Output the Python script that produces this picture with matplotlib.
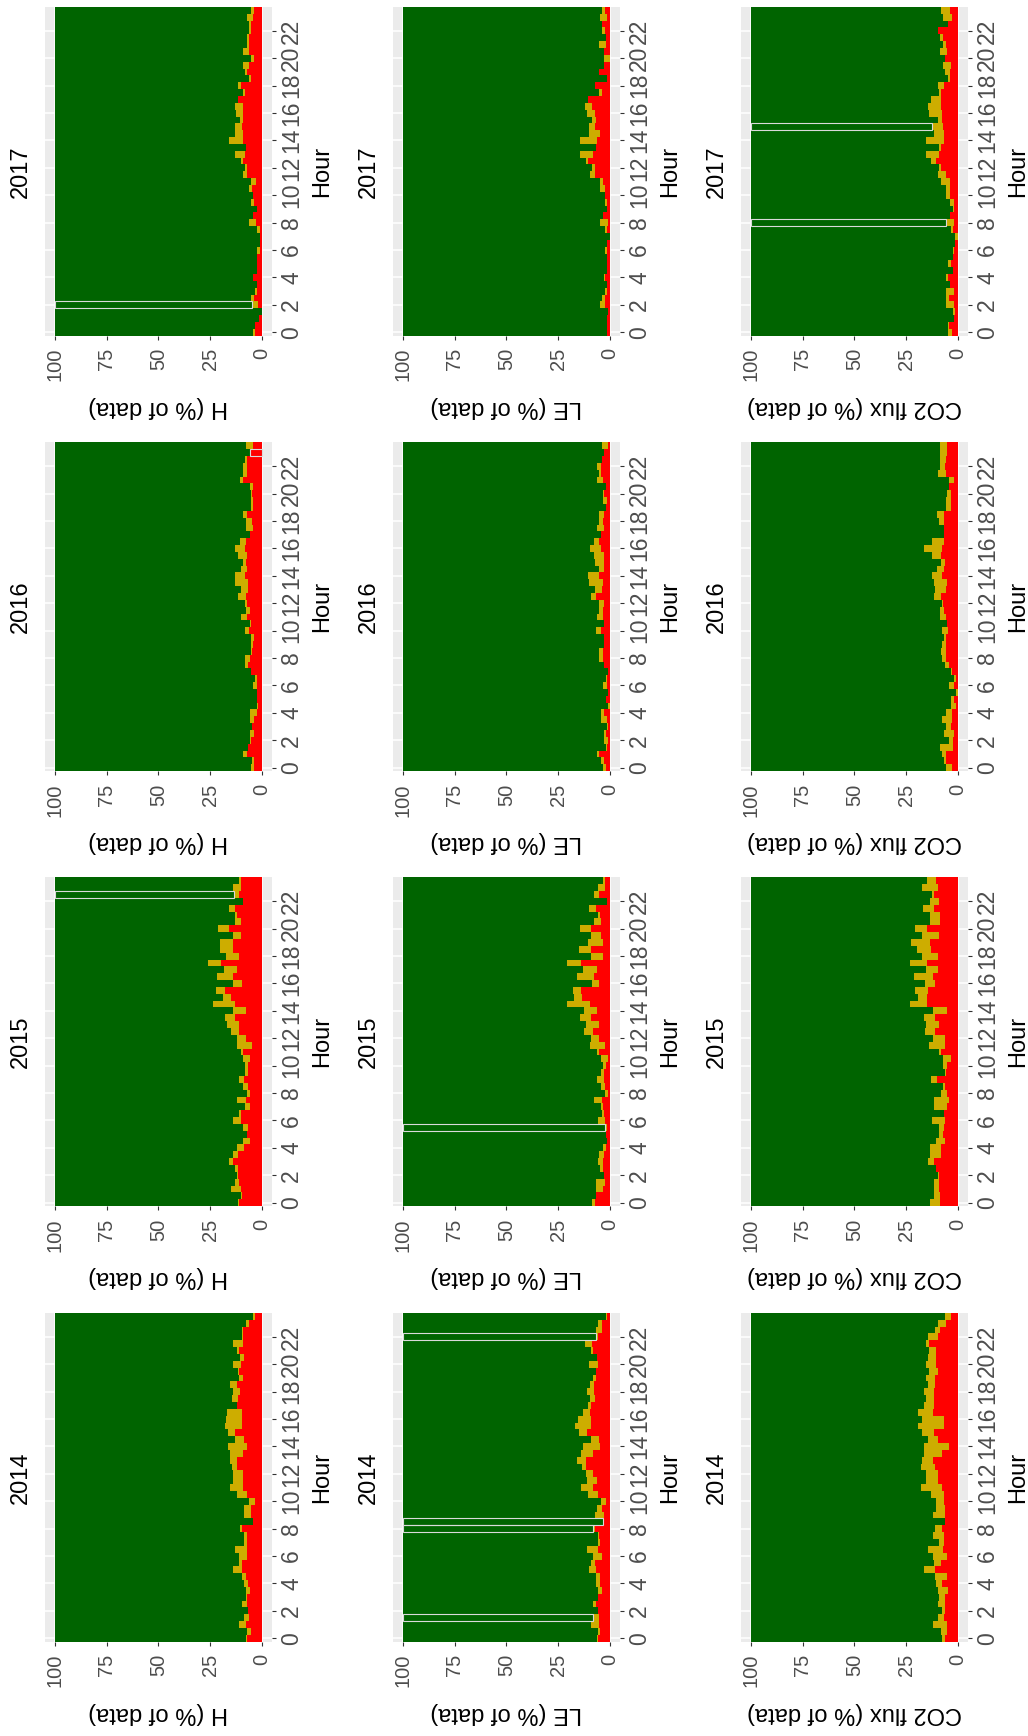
import matplotlib
matplotlib.use("Agg")
import matplotlib.pyplot as plt
from matplotlib.patches import Rectangle

plt.rcParams["font.family"] = ["Liberation Sans", "DejaVu Sans"]

# categories
HOURS = [0, 0.5, 1, 1.5, 2, 2.5, 3, 3.5, 4, 4.5, 5, 5.5, 6, 6.5, 7, 7.5,
         8, 8.5, 9, 9.5, 10, 10.5, 11, 11.5, 12, 12.5, 13, 13.5, 14, 14.5, 15, 15.5,
         16, 16.5, 17, 17.5, 18, 18.5, 19, 19.5, 20, 20.5, 21, 21.5, 22, 22.5, 23, 23.5]
YEARS = [2014, 2015, 2016, 2017]
VARIABLES = ["H", "LE", "CO2 flux"]
HOUR_TICKS = [0, 2, 4, 6, 8, 10, 12, 14, 16, 18, 20, 22]
PCT_TICKS = [0, 25, 50, 75, 100]

# % of data per half hour: red = flag 2, yel = flag 1 (green = the rest)
h14_red = [7.3, 5.3, 7.6, 6.0, 6.5, 7.3, 7.3, 5.6, 6.5, 7.6, 9.7, 9.7, 7.0, 7.3, 7.0, 7.0,
           9.7, 4.0, 5.3, 5.3, 3.2, 7.0, 9.2, 8.9, 8.9, 12.1, 12.1, 8.9, 7.0, 8.4, 12.9, 9.7,
           9.4, 9.7, 11.8, 11.5, 10.5, 11.8, 8.9, 10.8, 10.2, 8.5, 10.8, 8.9, 8.9, 8.9, 6.0, 3.2]
h14_yel = [0.4, 2.0, 3.2, 2.4, 0.3, 2.1, 0.4, 2.1, 1.9, 1.8, 4.0, 1.3, 3.8, 5.4, 1.4, 1.4,
           0.8, 0.0, 3.1, 3.1, 2.8, 4.8, 6.1, 4.8, 4.8, 2.1, 3.2, 6.4, 9.1, 4.5, 3.2, 8.0,
           7.9, 7.2, 0.3, 2.7, 3.2, 3.5, 1.9, 0.7, 3.5, 2.0, 1.0, 4.8, 0.5, 0.5, 1.6, 0.8]

h15_red = [10.8, 9.7, 10.2, 10.8, 11.3, 11.3, 14.0, 11.6, 8.5, 5.6, 6.9, 6.8, 10.0, 10.0, 5.6, 7.6,
           5.6, 6.6, 8.5, 6.8, 6.6, 5.6, 8.9, 4.7, 7.7, 11.0, 11.0, 12.9, 7.6, 12.9, 14.8, 17.7,
           9.7, 13.7, 12.1, 19.7, 11.0, 14.0, 14.0, 10.0, 15.8, 10.0, 11.9, 12.9, 8.9, 11.0, 10.0, 10.0]
h15_yel = [0.5, 0.3, 4.6, 2.1, 0.8, 1.6, 1.8, 2.1, 3.3, 3.3, 0.4, 2.1, 3.7, 1.0, 2.3, 4.2,
           1.3, 2.3, 2.5, 1.3, 1.3, 3.3, 0.9, 7.1, 4.1, 3.8, 5.6, 4.8, 6.1, 10.6, 3.7, 4.3,
           4.2, 8.1, 6.0, 6.3, 6.4, 6.2, 6.2, 4.0, 5.2, 2.7, 1.0, 3.1, 0.0, 2.4, 4.0, 1.0]

h16_red = [3.7, 3.7, 7.3, 6.6, 5.3, 3.7, 4.5, 3.7, 2.4, 1.8, 2.4, 2.4, 2.1, 2.4, 5.3, 6.6,
           5.6, 4.5, 4.0, 3.5, 6.0, 5.2, 7.3, 5.6, 6.9, 7.7, 6.8, 6.8, 7.9, 6.9, 7.6, 7.3,
           7.9, 7.6, 5.6, 4.4, 4.8, 7.3, 4.0, 4.0, 4.5, 4.0, 8.9, 7.3, 7.3, 6.9, 5.6, 4.0]
h16_yel = [1.3, 1.0, 1.6, 0.0, 0.3, 1.9, 0.2, 1.9, 3.2, 0.3, 0.0, 0.0, 1.9, 0.8, 0.0, 1.4,
           2.4, 0.8, 1.3, 1.7, 2.0, 0.4, 2.7, 2.1, 1.1, 3.8, 3.2, 6.1, 5.0, 3.1, 1.3, 4.0,
           5.0, 2.9, 0.0, 3.2, 2.8, 1.6, 1.0, 1.2, 0.5, 1.6, 1.6, 1.6, 1.6, 1.1, 0.0, 3.6]

h17_red = [3.2, 3.2, 1.1, 0.0, 1.9, 3.7, 2.4, 2.4, 4.0, 2.1, 2.1, 2.1, 0.8, 0.8, 0.8, 0.8,
           2.7, 4.0, 2.1, 3.7, 4.4, 4.7, 2.7, 6.9, 7.3, 8.9, 8.0, 7.7, 9.2, 9.2, 9.7, 8.9,
           8.9, 8.9, 11.3, 8.0, 10.0, 5.2, 6.9, 6.3, 3.7, 6.0, 6.0, 6.0, 5.2, 5.2, 4.0, 3.7]
h17_yel = [0.8, 0.0, 0.0, 0.0, 2.9, 1.5, 1.0, 0.0, 0.0, 0.0, 0.0, 0.0, 1.3, 0.0, 0.0, 1.3,
           3.3, 0.0, 0.0, 1.3, 0.0, 1.3, 2.6, 2.0, 0.6, 1.1, 5.0, 0.0, 6.8, 3.8, 3.3, 1.4,
           3.4, 4.1, 0.0, 1.2, 1.3, 0.9, 1.0, 2.6, 1.3, 2.9, 0.9, 0.9, 0.8, 0.8, 2.9, 1.3]

le14_red = [5.5, 4.7, 5.2, 5.2, 5.5, 6.8, 5.8, 3.9, 4.5, 4.5, 6.8, 7.1, 3.5, 5.5, 4.5, 5.2,
            7.1, 3.2, 2.9, 3.5, 1.9, 5.5, 8.0, 6.1, 8.0, 11.6, 11.6, 8.0, 4.7, 5.0, 11.0, 9.2,
            9.2, 9.4, 8.9, 7.3, 7.6, 7.6, 6.8, 6.8, 5.8, 6.0, 7.9, 8.4, 5.6, 3.9, 3.5, 1.1]
le14_yel = [0.5, 1.1, 3.8, 2.7, 0.3, 1.1, 0.0, 1.6, 2.0, 2.0, 3.2, 1.8, 4.4, 5.3, 1.0, 0.3,
            0.9, 0.0, 4.2, 2.6, 2.3, 4.8, 5.7, 4.7, 3.3, 1.6, 4.0, 6.0, 8.2, 4.0, 3.8, 7.6,
            6.0, 3.3, 1.4, 2.1, 3.2, 1.9, 1.2, 0.0, 4.2, 0.0, 1.0, 3.7, 1.2, 2.6, 2.1, 0.8]

le15_red = [7.1, 6.8, 3.2, 2.3, 2.6, 3.2, 3.2, 2.9, 1.6, 1.3, 1.6, 1.1, 2.3, 2.9, 3.2, 3.5,
            1.0, 2.3, 2.6, 2.6, 1.6, 0.6, 5.2, 2.3, 5.2, 8.0, 5.2, 9.0, 6.1, 9.5, 13.5, 13.9,
            5.2, 7.6, 6.1, 14.0, 3.2, 8.9, 3.2, 4.2, 8.9, 4.4, 4.7, 6.8, 1.1, 5.2, 2.3, 2.3]
le15_yel = [1.6, 0.0, 3.6, 4.2, 0.0, 1.3, 2.3, 2.3, 1.6, 0.0, 0.0, 1.2, 3.2, 0.6, 1.0, 4.1,
            1.3, 2.1, 3.5, 1.6, 1.6, 3.6, 0.9, 7.2, 3.7, 4.4, 6.1, 5.4, 6.3, 11.0, 3.8, 3.8,
            3.2, 8.0, 6.8, 6.5, 5.7, 5.9, 7.3, 4.8, 5.5, 3.2, 0.9, 3.2, 0.0, 2.4, 3.2, 0.9]

le16_red = [1.9, 2.6, 5.2, 1.3, 0.6, 1.6, 0.6, 1.3, 2.6, 0.0, 1.6, 1.0, 1.3, 1.3, 0.6, 2.9,
            3.2, 3.2, 2.9, 2.9, 4.2, 2.6, 3.2, 3.2, 2.9, 6.8, 3.5, 3.2, 5.2, 2.6, 2.7, 2.6,
            4.4, 5.2, 4.2, 2.7, 3.2, 2.9, 1.9, 1.3, 2.6, 1.9, 3.2, 4.2, 4.2, 3.5, 2.6, 0.6]
le16_yel = [1.3, 1.6, 0.9, 0.6, 2.0, 1.3, 0.5, 2.9, 1.6, 1.0, 0.0, 0.0, 1.9, 0.6, 0.0, 0.0,
            2.0, 2.0, 0.0, 0.0, 2.6, 0.0, 2.9, 2.0, 2.3, 2.2, 3.6, 6.8, 5.3, 2.6, 4.4, 4.8,
            5.3, 2.5, 0.0, 3.4, 2.0, 2.3, 0.0, 1.9, 0.6, 0.0, 2.9, 1.0, 1.9, 0.0, 0.0, 2.9]

le17_red = [1.3, 1.3, 1.3, 0.6, 2.3, 2.3, 1.3, 1.3, 2.3, 1.3, 1.3, 1.3, 1.3, 1.3, 0.0, 1.3,
            1.0, 3.2, 1.3, 1.3, 2.3, 2.3, 3.2, 7.1, 7.1, 10.3, 8.0, 6.8, 6.0, 4.7, 7.1, 6.8,
            7.1, 8.4, 10.3, 3.9, 7.1, 1.3, 5.2, 2.6, 0.0, 2.6, 1.6, 1.6, 2.3, 3.5, 1.3, 2.3]
le17_yel = [0.0, 0.0, 0.0, 0.0, 2.4, 1.2, 1.0, 0.0, 0.6, 0.0, 0.0, 0.0, 1.0, 0.0, 0.0, 1.0,
            3.7, 0.0, 0.0, 1.0, 0.0, 2.4, 1.5, 2.4, 1.3, 1.3, 6.4, 0.0, 8.4, 5.3, 2.9, 1.6,
            3.7, 3.5, 0.0, 1.3, 0.0, 0.0, 0.0, 0.0, 2.9, 0.0, 3.6, 0.0, 1.2, 0.0, 3.4, 1.2]

co14_red = [6.0, 5.2, 5.2, 6.8, 6.1, 6.0, 6.1, 4.5, 7.6, 5.2, 11.0, 7.9, 5.2, 7.3, 6.8, 6.8,
            7.6, 6.1, 6.1, 6.1, 6.8, 6.8, 7.6, 9.7, 9.7, 10.8, 11.9, 7.6, 4.4, 9.7, 11.3, 6.8,
            6.8, 12.1, 11.6, 11.6, 11.3, 10.8, 10.8, 9.7, 10.3, 10.5, 10.6, 13.9, 9.5, 8.7, 5.5, 3.2]
co14_yel = [1.6, 2.8, 6.7, 2.7, 1.5, 3.7, 2.8, 5.2, 2.7, 5.8, 5.5, 3.7, 6.7, 7.1, 2.4, 5.3,
            3.2, 0.0, 6.0, 4.4, 3.7, 6.1, 10.1, 5.6, 5.6, 6.9, 5.4, 8.5, 12.1, 4.7, 6.0, 12.4,
            10.5, 7.1, 4.9, 3.7, 5.2, 3.6, 4.5, 4.0, 5.0, 3.9, 3.4, 1.4, 4.9, 2.1, 4.0, 2.9]

co15_red = [8.4, 8.4, 9.2, 9.2, 9.2, 10.3, 11.6, 8.0, 8.0, 6.3, 7.1, 6.8, 6.3, 6.8, 5.2, 4.4,
            5.2, 6.1, 10.0, 5.8, 5.2, 3.2, 8.0, 6.1, 6.1, 10.8, 9.2, 10.8, 5.2, 14.8, 14.8, 14.5,
            11.1, 12.1, 9.5, 14.8, 9.7, 12.7, 13.2, 9.0, 14.8, 8.7, 8.7, 11.6, 9.0, 11.3, 9.5, 10.5]
co15_yel = [4.8, 2.9, 2.1, 2.1, 0.3, 0.0, 2.8, 5.2, 5.2, 4.2, 1.8, 2.2, 6.1, 0.0, 6.1, 6.9,
            2.8, 1.0, 2.9, 0.3, 1.9, 3.9, 0.9, 7.8, 5.8, 4.8, 6.1, 5.3, 6.7, 8.2, 4.4, 6.0,
            4.5, 9.2, 5.8, 8.2, 7.6, 7.0, 9.4, 8.3, 5.8, 4.5, 4.5, 5.2, 4.2, 1.1, 7.6, 4.3]

co16_red = [2.9, 5.6, 5.6, 2.3, 2.3, 1.9, 3.2, 2.7, 2.6, 1.0, 1.9, 0.0, 1.9, 1.0, 2.9, 4.2,
            5.6, 5.6, 5.6, 5.5, 4.8, 5.2, 5.8, 6.8, 7.1, 8.0, 5.8, 5.2, 7.4, 6.8, 6.1, 7.9,
            7.4, 6.8, 6.8, 6.8, 6.8, 6.8, 3.2, 3.2, 3.2, 4.2, 1.9, 5.6, 6.0, 5.8, 5.2, 5.2]
co16_yel = [2.9, 1.2, 1.8, 6.1, 1.9, 4.6, 2.4, 4.7, 2.9, 2.2, 1.3, 1.0, 2.3, 0.9, 0.3, 1.9,
            2.1, 2.4, 1.8, 1.0, 2.8, 0.0, 2.6, 1.6, 0.5, 3.3, 5.0, 6.1, 5.0, 3.2, 1.9, 4.5,
            9.1, 5.6, 0.0, 0.0, 2.2, 3.2, 2.4, 2.4, 2.0, 0.0, 2.3, 4.1, 2.4, 2.6, 3.2, 3.2]

co17_red = [2.7, 4.4, 1.9, 1.5, 1.9, 4.4, 1.9, 3.5, 4.7, 2.4, 3.2, 2.3, 1.6, 1.3, 0.0, 2.3,
            1.6, 3.5, 1.6, 1.6, 3.5, 3.5, 3.5, 5.6, 8.0, 10.5, 9.2, 7.9, 6.8, 6.8, 7.3, 7.4,
            7.4, 8.0, 8.0, 8.0, 6.8, 3.9, 3.9, 3.2, 6.1, 5.2, 5.6, 7.1, 9.5, 4.5, 2.9, 3.9]
co17_yel = [2.0, 0.3, 0.0, 0.8, 3.7, 1.1, 3.7, 0.0, 0.9, 0.0, 1.5, 0.0, 0.7, 0.0, 1.3, 0.9,
            4.0, 0.0, 0.7, 1.9, 2.1, 2.1, 4.5, 4.1, 1.0, 2.4, 6.1, 1.1, 8.5, 4.5, 5.0, 2.3,
            6.6, 6.4, 4.9, 1.0, 2.7, 0.8, 2.2, 3.9, 0.0, 3.5, 1.5, 1.3, 0.0, 0.0, 4.2, 4.2]

RED = {
    ("H", 2014): h14_red, ("H", 2015): h15_red, ("H", 2016): h16_red, ("H", 2017): h17_red,
    ("LE", 2014): le14_red, ("LE", 2015): le15_red, ("LE", 2016): le16_red, ("LE", 2017): le17_red,
    ("CO2 flux", 2014): co14_red, ("CO2 flux", 2015): co15_red,
    ("CO2 flux", 2016): co16_red, ("CO2 flux", 2017): co17_red,
}
YEL = {
    ("H", 2014): h14_yel, ("H", 2015): h15_yel, ("H", 2016): h16_yel, ("H", 2017): h17_yel,
    ("LE", 2014): le14_yel, ("LE", 2015): le15_yel, ("LE", 2016): le16_yel, ("LE", 2017): le17_yel,
    ("CO2 flux", 2014): co14_yel, ("CO2 flux", 2015): co15_yel,
    ("CO2 flux", 2016): co16_yel, ("CO2 flux", 2017): co17_yel,
}

# half hours whose bar segment is drawn with a light outline
OUTLINED = [
    ("H", 2015, 22.5, "green"),
    ("H", 2016, 23.0, "red"),
    ("H", 2017, 2.0, "green"),
    ("LE", 2014, 1.5, "green"),
    ("LE", 2014, 8.0, "green"),
    ("LE", 2014, 8.5, "green"),
    ("LE", 2014, 22.0, "green"),
    ("LE", 2015, 5.5, "green"),
    ("CO2 flux", 2017, 8.0, "green"),
    ("CO2 flux", 2017, 15.0, "green"),
]

C_GREEN = "#006400"
C_YEL = "#CDAD00"
C_RED = "#FF0000"
C_PANEL = "#EBEBEB"

# page is the ggplot grid turned a quarter turn counter-clockwise
W_PX, H_PX = 1028, 1736
COL_LEFT = [44.7, 392.7, 740.7]
ROW_TOP = {2017: 6.9, 2016: 442.3, 2015: 877.3, 2014: 1312.9}
PANEL_W, PANEL_H = 227.3, 328.8


def fx(x):
    return x / W_PX


def fy(y):
    return 1 - y / H_PX


fig = plt.figure(figsize=(W_PX / 100, H_PX / 100), dpi=100)

for ci, var in enumerate(VARIABLES):
    for year in YEARS:
        left = COL_LEFT[ci]
        top = ROW_TOP[year]
        ax = fig.add_axes([fx(left), fy(top + PANEL_H), PANEL_W / W_PX, PANEL_H / H_PX])
        ax.set_facecolor(C_PANEL)

        red = RED[(var, year)]
        yel = YEL[(var, year)]
        red_yel = [r + y for r, y in zip(red, yel)]
        green = [100 - s for s in red_yel]

        for vals, base, col in ((red, None, C_RED), (yel, red, C_YEL), (green, red_yel, C_GREEN)):
            ax.barh(HOURS, vals, height=0.5, left=base if base is not None else 0,
                    color=col, linewidth=0, antialiased=False, zorder=2)

        for ov, oy, oh, seg in OUTLINED:
            if ov != var or oy != year:
                continue
            i = HOURS.index(oh)
            if seg == "green":
                x0, w = red_yel[i], green[i]
            else:
                x0, w = 0, red[i]
            ax.add_patch(Rectangle((x0, oh - 0.25), w, 0.5, fill=False,
                                   edgecolor="#DADADA", linewidth=0.8, zorder=3))

        ax.set_xlim(105, -5)
        ax.set_ylim(-0.25, 23.75)
        ax.set_xticks(PCT_TICKS)
        ax.set_xticklabels([str(t) for t in PCT_TICKS], rotation=90, ha="center", va="top")
        ax.yaxis.tick_right()
        ax.set_yticks(HOUR_TICKS)
        ax.set_yticklabels([str(t) for t in HOUR_TICKS], rotation=90, ha="left", va="center")
        ax.grid(True, color="white", linewidth=1.1, zorder=0)
        ax.set_axisbelow(True)
        for sp in ax.spines.values():
            sp.set_visible(False)
        ax.tick_params(axis="x", length=2.9, width=0.8, color="#333333",
                       labelcolor="#4D4D4D", labelsize=14.5, pad=6)
        ax.tick_params(axis="y", length=2.9, width=0.8, color="#333333",
                       labelcolor="#4D4D4D", labelsize=16.5, pad=3,
                       left=False, right=True, labelleft=False, labelright=True)

        cy = top + PANEL_H / 2
        fig.text(fx(left - 24), fy(cy), str(year), rotation=90,
                 ha="center", va="center", fontsize=17)
        fig.text(fx(left + PANEL_W / 2), fy(top + PANEL_H + 71), f"{var} (% of data)",
                 rotation=180, ha="center", va="center", fontsize=17)
        fig.text(fx(left + PANEL_W + 50), fy(cy), "Hour", rotation=90,
                 ha="center", va="center", fontsize=17)

fig.savefig("out.png", dpi=100, facecolor="white")
